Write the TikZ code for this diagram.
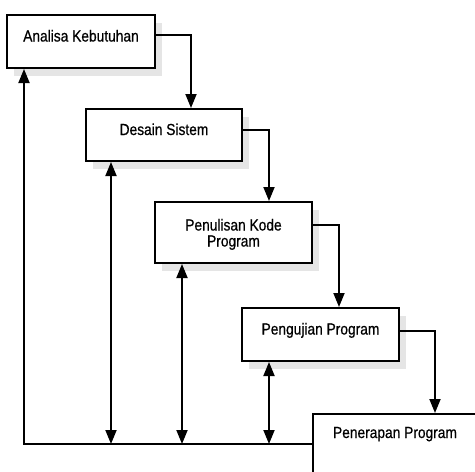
\documentclass[tikz,border=0pt]{standalone}
\usepackage{fontspec}
\setmainfont{Liberation Sans}[FakeStretch=0.86,FakeBold=0.6]
\usetikzlibrary{arrows.meta,shadows}
\tikzset{
	tahap/.style={draw,line width=2pt,fill=white,inner sep=0pt,
		minimum width=157pt,minimum height=53pt,
		text height=8pt,text depth=8pt,font=\fontsize{16}{16}\selectfont,
		drop shadow={shadow xshift=7pt,shadow yshift=-8pt,fill=black!10,opacity=1}},
	alur/.style={line width=1.8pt,-{Triangle[length=14pt,width=11pt]}},
	balik/.style={line width=1.8pt,{Triangle[length=14pt,width=11pt]}-{Triangle[length=14pt,width=11pt]}}
}

\begin{document}
\begin{tikzpicture}[x=1pt,y=-1pt]
	\useasboundingbox (0,0) rectangle (475,472);
	\clip (0,0) rectangle (475,472);

	% tahapan waterfall
	\node[tahap,minimum width=148pt] (b1) at (81,41.5) {Analisa Kebutuhan};
	\node[tahap,minimum width=156pt,minimum height=52pt] (b2) at (164,135) {Desain Sistem};
	\node[tahap,minimum height=61pt,align=center,text height=36pt] (b3) at (233.5,232.5) {Penulisan Kode\\Program};
	\node[tahap] (b4) at (320.5,334.5) {Pengujian Program};
	\node[tahap,minimum width=164pt,minimum height=66pt,text depth=26pt] (b5) at (395,447) {Penerapan Program};

	% aliran ke bawah
	\draw[alur] ([yshift=6.5pt]b1.east) -| ([xshift=27pt]b2.north);
	\draw[alur] ([yshift=5pt]b2.east) -| ([xshift=35.5pt]b3.north);
	\draw[alur] ([yshift=7.5pt]b3.east) -| ([xshift=18.5pt]b4.north);
	\draw[alur] ([yshift=3.5pt]b4.east) -| ([xshift=40pt]b5.north);

	% umpan balik
	\coordinate (dasar) at (24,444);
	\draw[alur] (b5.west |- dasar) -- (dasar) -- (dasar |- b1.south);

	\coordinate (u2) at ([xshift=-53pt]b2.south);
	\draw[balik] (u2) -- (u2 |- dasar);
	\coordinate (u3) at ([xshift=-51.5pt]b3.south);
	\draw[balik] (u3) -- (u3 |- dasar);
	\coordinate (u4) at ([xshift=-51.5pt]b4.south);
	\draw[balik] (u4) -- (u4 |- dasar);
\end{tikzpicture}
\end{document}
